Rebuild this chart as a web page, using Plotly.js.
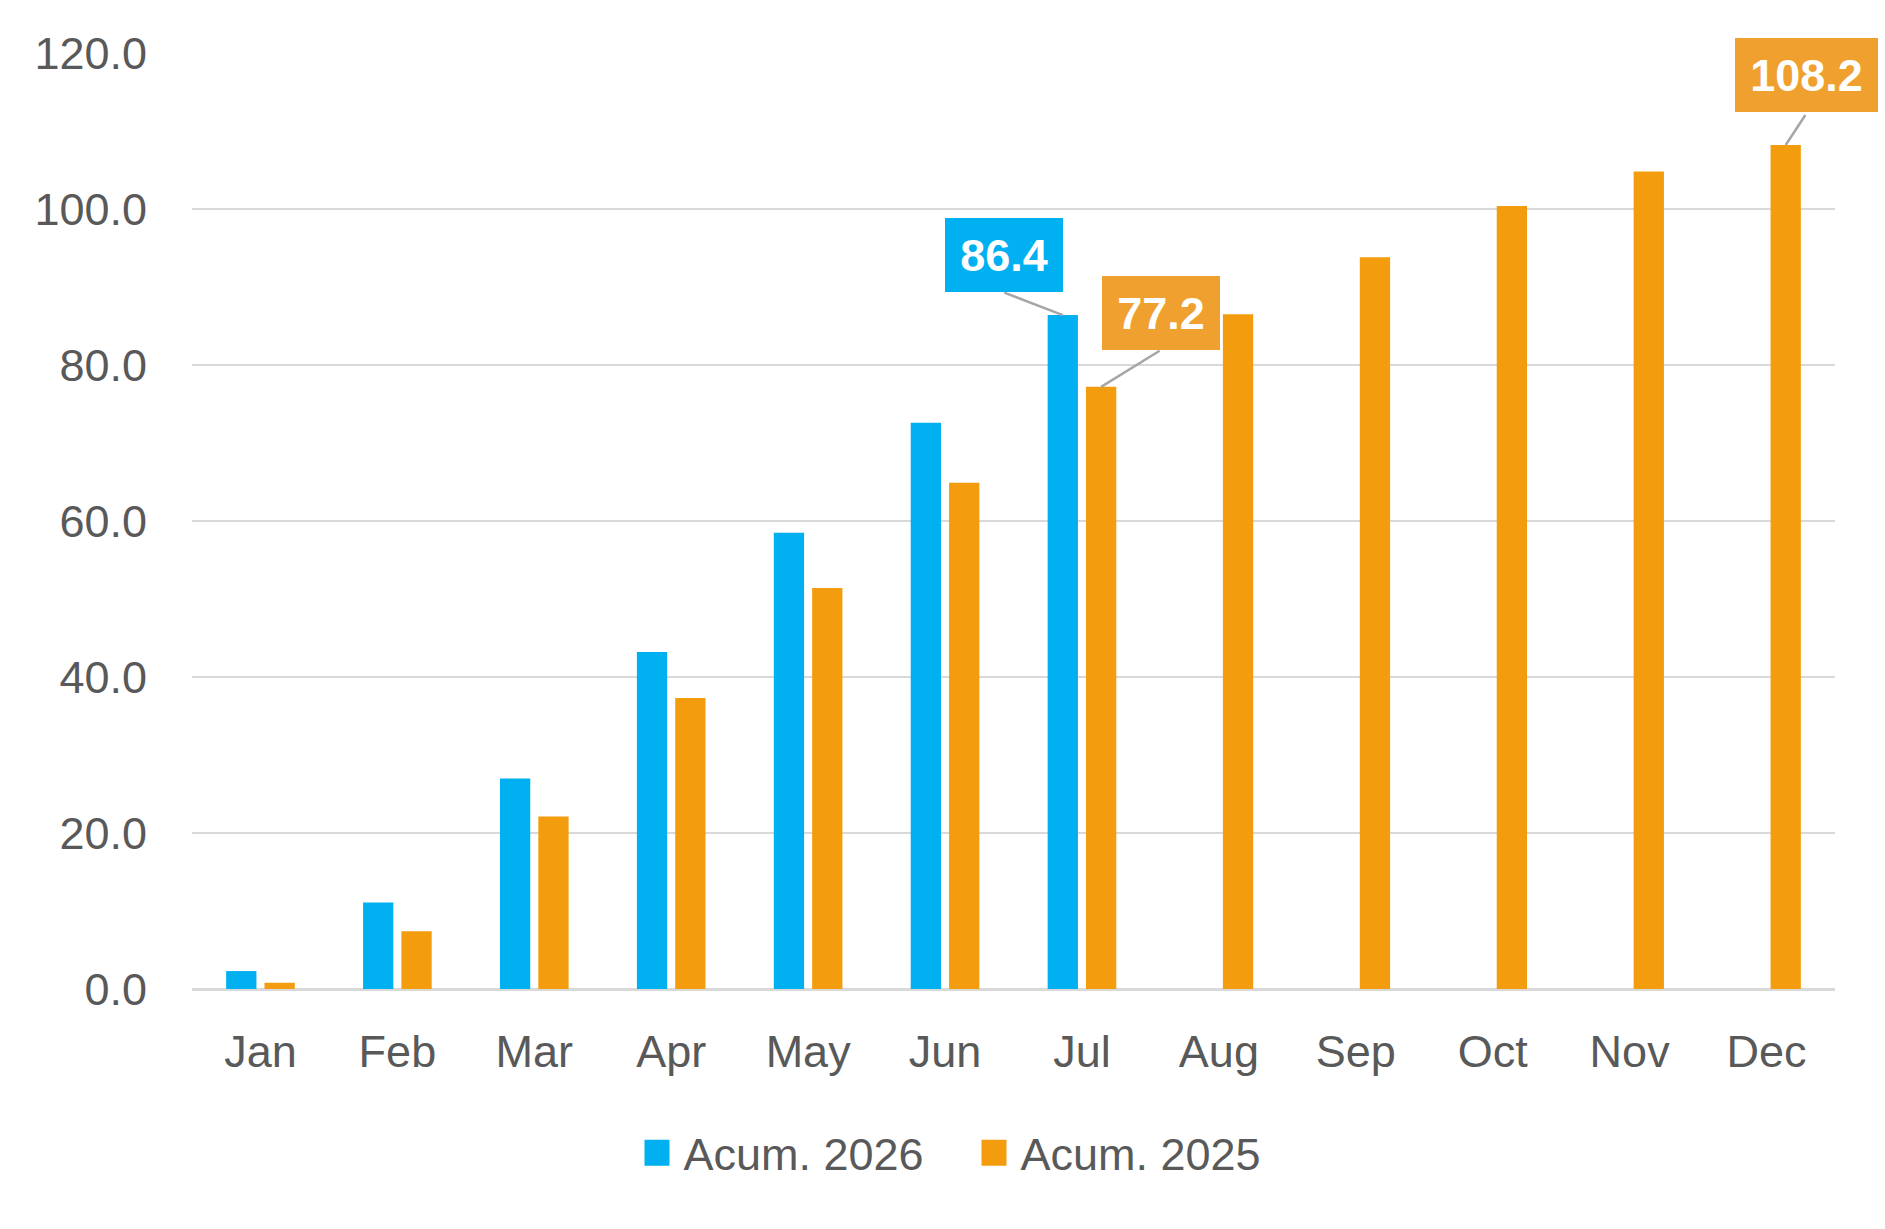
<!DOCTYPE html>
<html>
<head>
<meta charset="utf-8">
<script src="https://cdn.plot.ly/plotly-3.0.1.min.js"></script>
<style>
    html, body { margin: 0; padding: 0; background: #ffffff; }
    #chart { width: 1885px; height: 1229px; }
</style>
</head>
<body>
<div id="chart"></div>
<script>
// monthly cumulative values
var months = ['Jan', 'Feb', 'Mar', 'Apr', 'May', 'Jun', 'Jul', 'Aug', 'Sep', 'Oct', 'Nov', 'Dec'];
var acum2026 = [2.3, 11.1, 27.0, 43.2, 58.5, 72.6, 86.4];
var acum2025 = [0.8, 7.4, 22.1, 37.3, 51.4, 64.9, 77.2, 86.5, 93.8, 100.4, 104.8, 108.2];
var seriesNames = ['Acum. 2026', 'Acum. 2025'];
var yTicks = [0, 20, 40, 60, 80, 100, 120];

(function () {
    'use strict';

    var W = 1885, H = 1229;
    var MARGIN = { l: 192, r: 50, t: 53, b: 240, autoexpand: false };
    var BLUE = '#00B0F0';
    var ORANGE = '#F39C0E';
    var ORANGE_LABEL = '#F0A02E';
    var GREY_TEXT = '#595959';
    var FONT = '"Liberation Sans", Arial, sans-serif';
    var BARGAP = 0.44;

    // half a bar slot, in category units, so labels sit on the bar centres
    var halfSlot = (1 - BARGAP) / 4;

    var traces = [
        {
            type: 'bar',
            name: seriesNames[0],
            x: months.slice(0, acum2026.length),
            y: acum2026,
            marker: { color: BLUE },
            hoverinfo: 'x+y'
        },
        {
            type: 'bar',
            name: seriesNames[1],
            x: months,
            y: acum2025,
            marker: { color: ORANGE },
            hoverinfo: 'x+y'
        }
    ];

    // callouts: last 2026 month, same month 2025, and December 2025
    var last26 = acum2026.length - 1;
    var callouts = [
        { x: last26 - halfSlot, y: acum2026[last26], bg: BLUE, w: 104, dx: -59, dy: 60, tx: -60, ty: -23 },
        { x: last26 + halfSlot, y: acum2025[last26], bg: ORANGE_LABEL, w: 104, dx: 60, dy: 74, tx: 60, ty: -37 },
        { x: acum2025.length - 1 + halfSlot, y: acum2025[acum2025.length - 1], bg: ORANGE_LABEL, w: 129, dx: 21, dy: 70, tx: 21, ty: -32 }
    ];

    var annotations = [];
    callouts.forEach(function (c) {
        // leader line
        annotations.push({
            xref: 'x', yref: 'y', x: c.x, y: c.y,
            text: ' ', font: { size: 1 },
            showarrow: true, arrowhead: 0, arrowwidth: 2.5, arrowcolor: '#A6A6A6',
            standoff: 0, ax: c.tx, ay: c.ty
        });
        // value box
        annotations.push({
            xref: 'x', yref: 'y', x: c.x, y: c.y,
            xshift: c.dx, yshift: c.dy,
            xanchor: 'center', yanchor: 'middle',
            text: '<b>' + c.y.toFixed(1) + '</b>',
            font: { family: FONT, size: 45, color: '#ffffff' },
            showarrow: false,
            bgcolor: c.bg, borderwidth: 0, borderpad: 7,
            width: c.w, height: 60
        });
    });

    // legend sits a bit right of the picture centre, below the month labels
    var plotW = W - MARGIN.l - MARGIN.r;
    var plotH = H - MARGIN.t - MARGIN.b;
    var legendX = (W / 2 + 38 - MARGIN.l) / plotW;
    var legendY = -(1153 - (H - MARGIN.b)) / plotH;

    var layout = {
        width: W,
        height: H,
        margin: MARGIN,
        paper_bgcolor: '#ffffff',
        plot_bgcolor: '#ffffff',
        font: { family: FONT, size: 45, color: GREY_TEXT },
        barmode: 'group',
        bargap: BARGAP,
        bargroupgap: 0.21,
        showlegend: true,
        legend: {
            orientation: 'h',
            x: legendX, xanchor: 'center',
            y: legendY, yanchor: 'middle',
            font: { family: FONT, size: 45, color: GREY_TEXT },
            entrywidth: 292, entrywidthmode: 'pixels',
            bgcolor: 'rgba(0,0,0,0)'
        },
        xaxis: {
            type: 'category',
            categoryorder: 'array',
            categoryarray: months,
            range: [-0.5, months.length - 0.5],
            showgrid: false,
            showline: false,
            ticks: '',
            tickangle: 0,
            ticklabelstandoff: 32,
            tickfont: { family: FONT, size: 45, color: GREY_TEXT },
            fixedrange: true
        },
        yaxis: {
            range: [0, 120],
            tickvals: yTicks,
            tickformat: '.1f',
            showgrid: true,
            gridcolor: '#D9D9D9',
            gridwidth: 2.5,
            zeroline: true,
            zerolinecolor: '#D9D9D9',
            zerolinewidth: 3,
            showline: false,
            ticks: '',
            ticklabelstandoff: 44,
            tickfont: { family: FONT, size: 45, color: GREY_TEXT },
            fixedrange: true
        },
        annotations: annotations
    };

    var config = { displayModeBar: false, staticPlot: true };

    function bigSwatches() {
        // bigger legend swatches with a wider gap to the text, as in the original
        var swatches = document.querySelectorAll('#chart .legendpoints path');
        for (var i = 0; i < swatches.length; i++) {
            swatches[i].setAttribute('d', 'M6,13H-19V-13H6Z');
        }
    }

    Plotly.newPlot('chart', traces, layout, config).then(function (gd) {
        bigSwatches();
        gd.on('plotly_afterplot', bigSwatches);
        setTimeout(bigSwatches, 50);
    });
})();
</script>
</body>
</html>
